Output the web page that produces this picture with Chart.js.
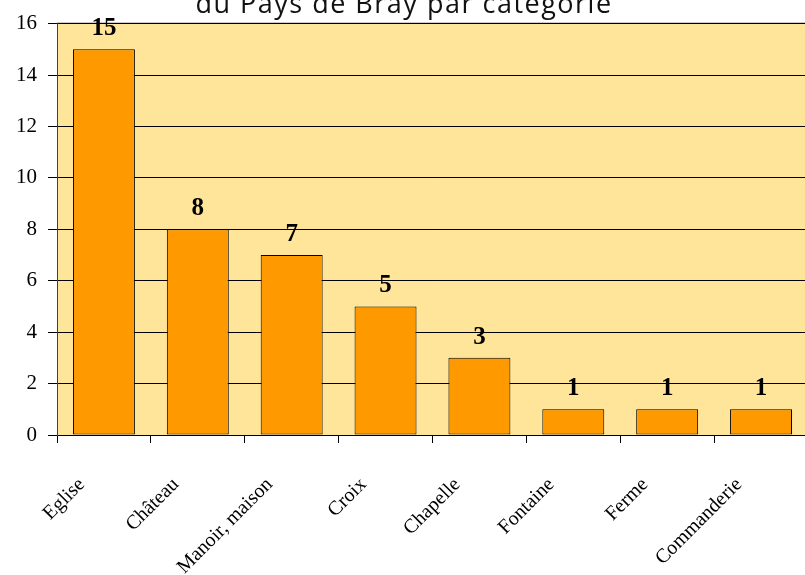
<!DOCTYPE html>
<html>
<head>
<meta charset="utf-8">
<script src="https://cdn.jsdelivr.net/npm/chart.js@4"></script>
<style>
  html, body { margin: 0; padding: 0; background: #fff; overflow: hidden; }
  #wrap { position: absolute; left: 0; top: 0; width: 808px; height: 575px; }
</style>
</head>
<body>
<div id="wrap"><canvas id="chart"></canvas></div>
<script>
// chart data
const categories = ["Eglise", "Château", "Manoir, maison", "Croix", "Chapelle", "Fontaine", "Ferme", "Commanderie"];
const counts = [15, 8, 7, 5, 3, 1, 1, 1];
const titleText = "du Pays de Bray par catégorie";

// yellow plot background + grey top border
const plotBackground = {
  id: "plotBackground",
  beforeDraw(chart) {
    const { ctx, chartArea } = chart;
    ctx.save();
    ctx.fillStyle = "#FFE599";
    ctx.fillRect(chartArea.left, chartArea.top, chartArea.right - chartArea.left, chartArea.bottom - chartArea.top);
    ctx.strokeStyle = "#808080";
    ctx.lineWidth = 1;
    ctx.beginPath();
    ctx.moveTo(chartArea.left, chartArea.top - 0.5);
    ctx.lineTo(chartArea.right, chartArea.top - 0.5);
    ctx.stroke();
    ctx.restore();
  },
};

// value labels above the bars
const valueLabels = {
  id: "valueLabels",
  afterDatasetsDraw(chart) {
    const { ctx } = chart;
    const meta = chart.getDatasetMeta(0);
    ctx.save();
    ctx.font = "bold 25px 'Liberation Serif', 'Times New Roman', serif";
    ctx.fillStyle = "#000";
    ctx.textAlign = "center";
    ctx.textBaseline = "alphabetic";
    meta.data.forEach((bar, i) => {
      ctx.fillText(String(counts[i]), bar.x, bar.y - 14);
    });
    ctx.restore();
  },
};

// second line of the title, the first one is cut off above the picture
const clippedTitle = {
  id: "clippedTitle",
  afterDraw(chart) {
    const { ctx } = chart;
    ctx.save();
    ctx.font = "27px 'Open Sans', sans-serif";
    ctx.letterSpacing = "1.5px";
    ctx.fillStyle = "#111";
    ctx.textAlign = "center";
    ctx.textBaseline = "alphabetic";
    ctx.fillText(titleText, 404, 13);
    ctx.restore();
  },
};

const ctx = document.getElementById("chart").getContext("2d");
new Chart(ctx, {
  type: "bar",
  data: {
    labels: categories,
    datasets: [
      {
        data: counts,
        backgroundColor: "#FF9900",
        borderColor: "#000000",
        borderWidth: 1,
        borderSkipped: false,
        barPercentage: 0.66,
        categoryPercentage: 1,
      },
    ],
  },
  options: {
    responsive: true,
    maintainAspectRatio: false,
    animation: false,
    layout: { padding: { top: 19, left: 0, right: 0, bottom: 0 } },
    plugins: {
      legend: { display: false },
      tooltip: { enabled: false },
      title: { display: false },
    },
    scales: {
      x: {
        afterFit: (s) => { s.height = 140; },
        grid: {
          offset: true,
          drawOnChartArea: false,
          drawTicks: true,
          tickLength: 8,
          color: "#000",
        },
        border: { display: true, color: "#000" },
        ticks: {
          autoSkip: false,
          minRotation: 45,
          maxRotation: 45,
          padding: 30,
          labelOffset: -22,
          color: "#000",
          font: { family: "'Liberation Serif', 'Times New Roman', serif", size: 20 },
        },
      },
      y: {
        min: 0,
        max: 16,
        afterFit: (s) => { s.width = 57; },
        grid: {
          color: "#000",
          lineWidth: 1,
          drawTicks: true,
          tickLength: 9,
        },
        border: { display: true, color: "#404040" },
        ticks: {
          stepSize: 2,
          padding: 11,
          color: "#000",
          font: { family: "'Liberation Serif', 'Times New Roman', serif", size: 21 },
        },
      },
    },
  },
  plugins: [plotBackground, valueLabels, clippedTitle],
});
</script>
</body>
</html>
